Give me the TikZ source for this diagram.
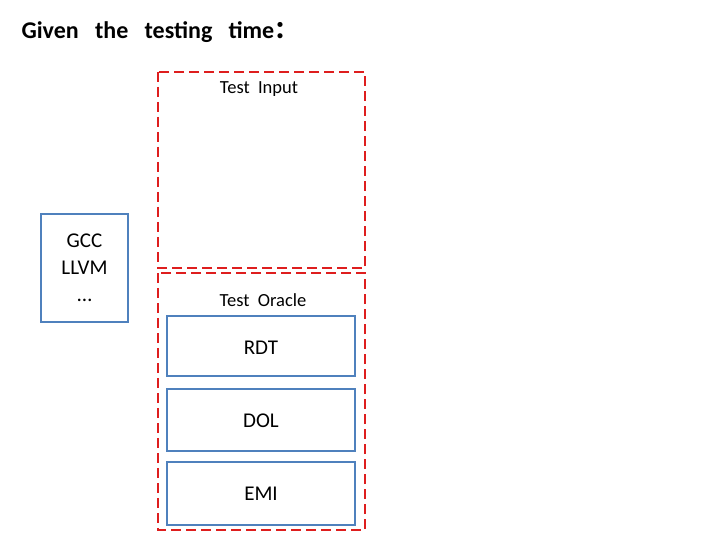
\documentclass[tikz,border=0pt]{standalone}
\usepackage{fontspec}
\setmainfont{Carlito}
\newfontfamily\cjk{Noto Sans CJK SC}
\definecolor{bl}{RGB}{79,129,189}
\definecolor{rd}{RGB}{222,30,30}
\begin{document}
\begin{tikzpicture}[x=1pt,y=-1pt,
  rbox/.style={draw=rd,line width=2.5pt,dash pattern=on 10pt off 5pt},
  bbox/.style={draw=bl,line width=2.3pt,fill=white},
  lab/.style={font=\fontsize{21}{25}\selectfont}]
\useasboundingbox (0,0) rectangle (720,540);
\node[anchor=west,font=\bfseries\fontsize{24}{28}\selectfont] (title) at (18,32) {Given\ \ \ the\ \ \ testing\ \ \ time{\cjk\bfseries ：}};
\draw[rbox] (158,72) rectangle (365,268);
\draw[rbox] (158,273) rectangle (365,530);
\node[font=\fontsize{18.5}{22}\selectfont] (ti) at (259,89) {Test\ \ Input};
\node[font=\fontsize{18.5}{22}\selectfont] (to) at (263,300) {Test\ \ Oracle};
\draw[bbox] (41,214) rectangle (128,322);
\node[lab,align=center] (cc) at (84.5,268) {GCC\\[2pt]LLVM\\[2pt]…};
\draw[bbox] (167,316) rectangle (355,376);
\node[lab] (rdt) at (261,348) {RDT};
\draw[bbox] (167,389) rectangle (355,451);
\node[lab] (dol) at (261,421) {DOL};
\draw[bbox] (167,462) rectangle (355,525);
\node[lab] (emi) at (261,494) {EMI};
\end{tikzpicture}
\end{document}
